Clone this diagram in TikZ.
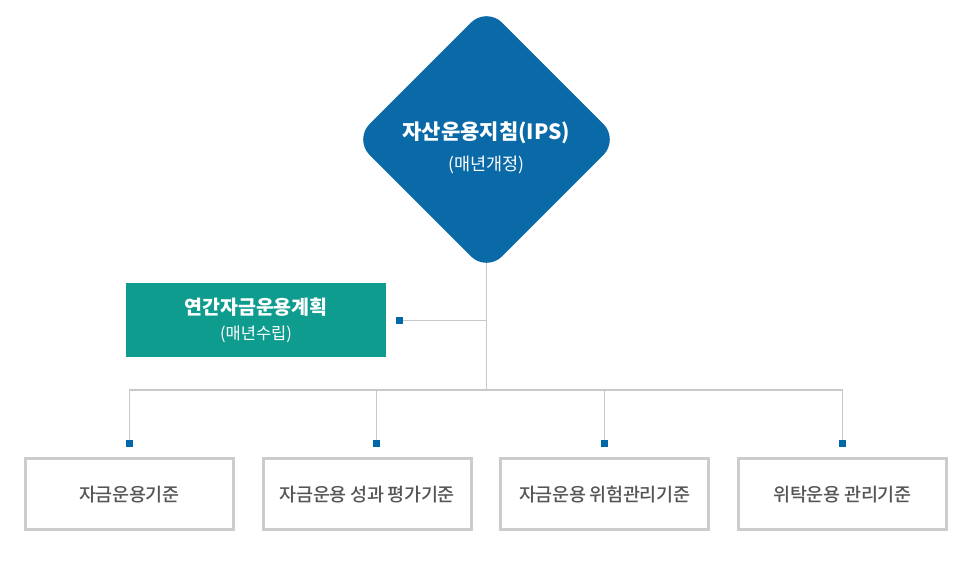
\documentclass[tikz,border=0pt]{standalone}
\usepackage{fontspec}
\setmainfont{Noto Sans CJK KR}
\newfontfamily\krmed[LetterSpace=-2]{Noto Sans CJK KR Medium}
\usetikzlibrary{shapes.geometric,backgrounds}
\definecolor{ipsblue}{HTML}{0A6AA8}
\definecolor{plangreen}{HTML}{0E9C8F}
\definecolor{sqblue}{HTML}{0068A8}
\definecolor{linegray}{HTML}{C8C8C8}
\definecolor{boxgray}{HTML}{CCCCCC}
\definecolor{txtgray}{HTML}{555555}
\tikzset{
  ipsshape/.style={diamond, aspect=1, fill=ipsblue, rounded corners=22pt,
    minimum width=265pt, minimum height=265pt, inner sep=0pt},
  planbox/.style={fill=plangreen, minimum width=260pt, minimum height=74pt, inner sep=0pt},
  stdbox/.style={draw=boxgray, line width=2.7pt, fill=white, minimum width=208pt,
    minimum height=71pt, inner sep=0pt, text=txtgray,
    font=\krmed\fontsize{18.5}{22}\selectfont},
  marker/.style={fill=sqblue, minimum size=7pt, inner sep=0pt},
  conn/.style={draw=linegray, line width=1.2pt},
  whitetitle/.style={text=white, inner sep=0pt},
}
\begin{document}
\begin{tikzpicture}[x=1pt,y=-1pt]
\useasboundingbox (0,0) rectangle (968,564);
% diamond
\node[ipsshape] (ips) at (486.5,139.5) {};
\node[whitetitle, font=\fontsize{21}{25}\selectfont\bfseries] (ipstitle) at (486.5,133) {자산운용지침(IPS)};
\node[whitetitle, font=\fontsize{17.5}{21}\selectfont] (ipssub) at (486.5,165) {(매년개정)};
% plan box
\node[planbox] (plan) at (256,320) {};
\node[whitetitle, font=\fontsize{19.5}{23}\selectfont\bfseries] (plantitle) at (256,307) {연간자금운용계획};
\node[whitetitle, font=\fontsize{16.5}{19}\selectfont] (plansub) at (256,334) {(매년수립)};
% markers
\node[marker] (m0) at (399.3,320.6) {};
\node[marker] (m1) at (129.3,443.3) {};
\node[marker] (m2) at (376.3,443.3) {};
\node[marker] (m3) at (604.3,443.3) {};
\node[marker] (m4) at (842.3,443.3) {};
% bottom boxes
\node[stdbox] (b1) at (129.3,494.2) {자금운용기준};
\node[stdbox] (b2) at (367.3,494.2) {자금운용 성과 평가기준};
\node[stdbox] (b3) at (604.7,494.2) {자금운용 위험관리기준};
\node[stdbox] (b4) at (842.5,494.2) {위탁운용 관리기준};
% connectors
\path (0,390) coordinate (hy);
\coordinate (hub) at (ips.center |- hy);
\coordinate (tee) at (ips.center |- m0);
\begin{scope}[on background layer]
\fill[white] (0,0) rectangle (968,564);
\draw[conn] (ips.center) -- (hub);
\draw[conn] (tee) -- (m0);
\draw[conn] (hub) -| (m1);
\draw[conn] (hub) -| (m2);
\draw[conn] (hub) -| (m3);
\draw[conn] (hub) -| (m4);
\end{scope}
\end{tikzpicture}
\end{document}
